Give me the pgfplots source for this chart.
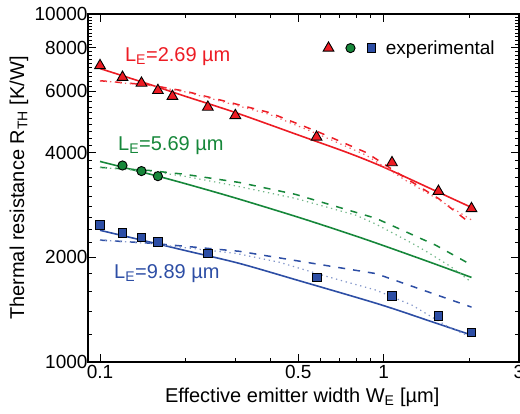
\documentclass[border=0pt]{standalone}
\usepackage{pgfplots}
\pgfplotsset{compat=1.18}
\usepackage{fontspec}
\setmainfont{Liberation Sans}
\definecolor{myred}{RGB}{237,28,36}
\definecolor{mygreen}{RGB}{22,135,58}
\definecolor{myblue}{RGB}{45,78,165}
\begin{document}
\begin{tikzpicture}
\begin{axis}[
  at={(0,0)}, anchor=south west,
  scale only axis, width=431pt, height=348pt,
  xmode=log, ymode=log,
  xmin=0.0907, xmax=3, ymin=1000, ymax=10000,
  xtick={0.1,0.5,1,3}, xticklabels={0.1,0.5,1,3},
  minor xtick={0.2,0.3,0.4,0.6,0.7,0.8,0.9,2},
  ytick={1000,2000,4000,6000,8000,10000},
  yticklabels={1000,2000,4000,6000,8000,10000},
  minor ytick={1200,1400,...,9800},
  tick align=inside, xtick pos=both, ytick pos=both,
  major tick length=8pt, minor tick length=4pt,
  every tick/.style={black, line width=0.9pt},
  axis line style={line width=1.1pt},
  /pgf/number format/assume math mode=true,
  tick label style={font=\fontsize{19}{22}\selectfont},
  yticklabel style={xshift=3pt},
  label style={font=\fontsize{20}{24}\selectfont},
  xlabel={Effective emitter width W\textsubscript{E} [µm]},
  ylabel={Thermal resistance R\textsubscript{TH} [K/W]},
  xlabel style={at={(axis description cs:0.497,0)}, anchor=center, yshift=-35pt},
  ylabel style={at={(axis description cs:-0.160,0.5)}, anchor=center},
  clip=false,
  legend columns=3,
  legend style={draw=none, fill=none, inner sep=0pt, nodes={inner sep=0pt},
    font=\fontsize{19}{22}\selectfont,
    /tikz/every even column/.append style={column sep=11pt},
    at={(0.944,0.902)}, anchor=east},
]
% experimental markers
\addplot[only marks, mark=triangle*, mark size=6.2pt, mark options={draw=black, fill=myred, line width=0.9pt}]
 coordinates {(0.1,7110)(0.12,6580)(0.14,6330)(0.16,6030)(0.18,5800)(0.24,5400)(0.30,5110)(0.58,4430)(1.07,3740)(1.56,3095)(2.04,2760)};
\addlegendentry{\mbox{}}
\addplot[only marks, mark=*, mark size=4.6pt, mark options={draw=black, fill=mygreen, line width=0.9pt}]
 coordinates {(0.12,3670)(0.14,3537)(0.16,3420)};
\addlegendentry{\mbox{}}
\addplot[only marks, mark=square*, mark size=4.4pt, mark options={draw=black, fill=myblue, line width=0.9pt}]
 coordinates {(0.1,2470)(0.12,2350)(0.14,2280)(0.16,2213)(0.24,2050)(0.58,1749)(1.07,1549)(1.56,1357)(2.04,1216)};
\addlegendentry{\hspace*{10pt}experimental}
% red
\addplot[myred, line width=1.6pt, smooth, forget plot] coordinates {(0.1,6970)(0.15,6270)(0.2,5800)(0.3,5210)(0.5,4490)(0.75,3990)(1.0,3630)(1.5,3120)(2.04,2780)};
\addplot[myred, line width=1.5pt, dash pattern=on 7pt off 8pt, forget plot] coordinates {(0.1,6430)(0.15,6250)(0.2,6000)(0.27,5640)(0.395,5210)(0.593,4570)(0.867,4000)(1.2,3370)(1.56,2950)(2.04,2490)};
\addplot[myred!70, line width=1.2pt, dash pattern=on 1.3pt off 3.7pt, forget plot] coordinates {(0.1,6430)(0.15,6230)(0.2,5970)(0.27,5600)(0.395,5150)(0.593,4500)(0.867,3930)(1.2,3320)(1.56,2930)(2.04,2560)};
% green
\addplot[mygreen, line width=1.6pt, smooth, forget plot] coordinates {(0.1,3770)(0.15,3466)(0.2,3254)(0.3,2960)(0.5,2606)(0.75,2340)(1.0,2159)(1.5,1919)(2.04,1750)};
\addplot[mygreen, line width=1.5pt, dash pattern=on 7pt off 8pt, forget plot] coordinates {(0.1,3625)(0.15,3550)(0.2,3460)(0.31,3280)(0.49,3030)(0.939,2587)(1.527,2165)(2.04,1900)};
\addplot[mygreen!60, line width=1.2pt, dash pattern=on 1.3pt off 3.7pt, forget plot] coordinates {(0.1,3625)(0.15,3530)(0.2,3415)(0.305,3200)(0.49,2950)(0.8,2640)(0.939,2490)(1.258,2195)(1.45,2053)(1.735,1873)(2.03,1700)};
% blue
\addplot[myblue, line width=1.6pt, smooth, forget plot] coordinates {(0.1,2390)(0.15,2211)(0.2,2090)(0.31,1920)(0.504,1712)(0.963,1466)(1.5,1300)(2.04,1195)};
\addplot[myblue, line width=1.5pt, dash pattern=on 7pt off 8pt, forget plot] coordinates {(0.1,2240)(0.15,2195)(0.2,2150)(0.31,2080)(0.504,1949)(0.939,1795)(1.5,1570)(2.04,1438)};
\addplot[myblue!60, line width=1.2pt, dash pattern=on 1.3pt off 3.7pt, forget plot] coordinates {(0.1,2240)(0.15,2190)(0.2,2130)(0.303,2050)(0.429,1935)(0.643,1753)(0.939,1609)(1.258,1457)(1.695,1260)(2.03,1180)};
% labels
\node[anchor=base west, text=myred, font=\fontsize{20}{24}\selectfont, inner sep=0pt] at (axis cs:0.1224,7290) {L\textsubscript{E}=2.69 µm};
\node[anchor=base west, text=mygreen, font=\fontsize{20}{24}\selectfont, inner sep=0pt] at (axis cs:0.1157,4055) {L\textsubscript{E}=5.69 µm};
\node[anchor=base west, text=myblue, font=\fontsize{20}{24}\selectfont, inner sep=0pt] at (axis cs:0.112,1741) {L\textsubscript{E}=9.89 µm};
\end{axis}
\pgfresetboundingbox
\path[use as bounding box] (-88pt,-51pt) rectangle (432pt,362pt);
\end{tikzpicture}
\end{document}
